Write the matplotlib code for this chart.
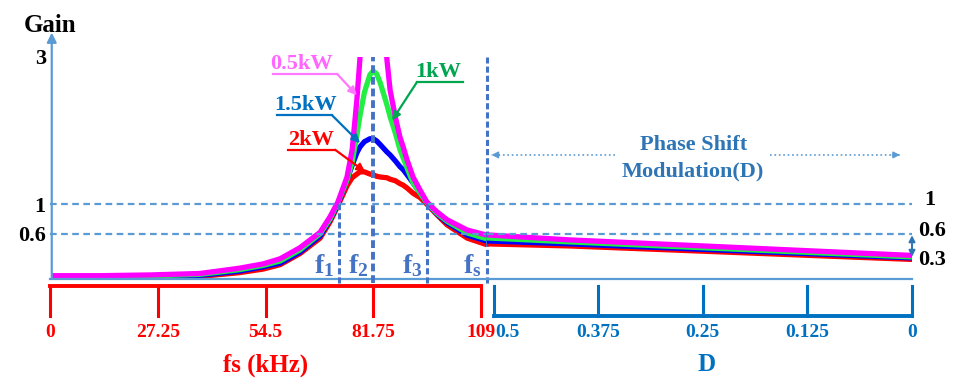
import matplotlib.pyplot as plt
import numpy as np

plt.rcParams['font.family'] = ['Liberation Serif', 'DejaVu Serif']
plt.rcParams['mathtext.fontset'] = 'custom'
plt.rcParams['mathtext.rm'] = 'Liberation Serif'
plt.rcParams['mathtext.bf'] = 'Liberation Serif:bold'

# 频率扫描部分 (kHz)
fs = [0.5, 12.6, 25.3, 37.9, 47.7, 53.9, 58.2, 63.2, 68.3, 70.8, 72.8, 75.1, 76.4, 77.6,
      78.4, 79.5, 80.9, 81.75, 82.6, 83.5, 85.2, 86.0, 87.3, 88.5, 89.3, 90.3, 91.8, 93.6,
      95.3, 97.8, 100.4, 105.5, 110.5]
gain_05kw = [0.03, 0.03, 0.04, 0.06, 0.13, 0.19, 0.26, 0.41, 0.62, 0.83, 1.03, 1.37, 1.74, 2.42,
             3.0, 3.6, 5.0, 6.0, 5.0, 4.2, 2.96, 2.55, 2.19, 1.91, 1.78, 1.60, 1.37, 1.19,
             1.03, 0.90, 0.79, 0.65, 0.58]
gain_1kw = [0.02, 0.02, 0.027, 0.048, 0.11, 0.17, 0.23, 0.38, 0.60, 0.80, 1.02, 1.33, 1.57, 1.94,
            2.21, 2.52, 2.76, 2.81, 2.77, 2.65, 2.35, 2.19, 1.97, 1.74, 1.63, 1.49, 1.29, 1.15,
            1.02, 0.88, 0.77, 0.61, 0.53]
gain_15kw = [0.014, 0.014, 0.02, 0.034, 0.09, 0.15, 0.20, 0.35, 0.57, 0.79, 1.0, 1.33, 1.53, 1.70,
             1.78, 1.85, 1.89, 1.89, 1.86, 1.81, 1.71, 1.67, 1.59, 1.51, 1.47, 1.40, 1.29, 1.15,
             1.02, 0.87, 0.75, 0.58, 0.50]
gain_2kw = [0.007, 0.007, 0.014, 0.02, 0.07, 0.12, 0.18, 0.33, 0.54, 0.76, 0.98, 1.25, 1.36, 1.41,
            1.44, 1.44, 1.41, 1.40, 1.38, 1.37, 1.36, 1.34, 1.32, 1.28, 1.26, 1.22, 1.15, 1.09,
            1.0, 0.86, 0.72, 0.54, 0.45]

# 移相调制部分 (D)
D = [0.508, 0.409, 0.0]
psm_05kw = [0.584, 0.516, 0.305]
psm_1kw = [0.543, 0.489, 0.285]
psm_15kw = [0.502, 0.462, 0.271]
psm_2kw = [0.462, 0.434, 0.251]

f_lines = [73.1, 81.75, 95.3, 110.5]
f_names = [r'$\mathbf{f_1}$', r'$\mathbf{f_2}$', r'$\mathbf{f_3}$', r'$\mathbf{f_s}$']
fs_ticks = [0, 27.25, 54.5, 81.75, 109]
fs_labels = ['0', '27.25', '54.5', '81.75', '109']
D_ticks = [0.5, 0.375, 0.25, 0.125, 0]
D_labels = ['0.5', '0.375', '0.25', '0.125', '0']

colors = ['#FF00FF', '#22EE44', '#0000FF', '#FF0000']
axis_c = '#5B9BD5'
dash_c = '#4472C4'
blue_t = '#2E75B6'

fig = plt.figure(figsize=(9.64, 3.90), dpi=100)
ax1 = fig.add_axes([50/964, 111/390, 437/964, 222/390])
ax2 = fig.add_axes([487/964, 111/390, 425/964, 222/390], sharey=ax1)
ax2.patch.set_visible(False)

# 曲线
for g, c in zip([gain_2kw, gain_15kw, gain_1kw, gain_05kw], colors[::-1]):
    ax1.plot(fs, g, color=c, lw=3.8, zorder=2, solid_capstyle='butt')
for g, c in zip([psm_2kw, psm_15kw, psm_1kw, psm_05kw], colors[::-1]):
    ax2.plot(D, g, color=c, lw=3.8, zorder=2, solid_capstyle='butt')

ax1.set_xlim(0, 110.5)
ax2.set_xlim(0.508, 0)
ax1.set_ylim(-0.015, 3.0)

for ax in (ax1, ax2):
    for s in ('top', 'right', 'left'):
        ax.spines[s].set_visible(False)
    ax.spines['bottom'].set_color(axis_c)
    ax.spines['bottom'].set_linewidth(1.6)
    ax.set_xticks([])
    ax.axhline(1, color=axis_c, lw=1.6, ls=(0, (3, 2)), zorder=3)
    ax.axhline(0.6, color=axis_c, lw=1.6, ls=(0, (3, 2)), zorder=3)
ax2.tick_params(left=False, labelleft=False)

ax1.set_yticks([0.6, 1, 3])
ax1.set_yticklabels(['0.6', '1', '3'], fontsize=16, fontweight='bold')
ax1.tick_params(axis='y', length=0, pad=3)

# y轴箭头
ax1.annotate('', xy=(0.004, 1.11), xytext=(0.004, 0), xycoords='axes fraction',
             arrowprops=dict(arrowstyle='-|>', color=axis_c, lw=1.6, mutation_scale=14,
                             shrinkA=0, shrinkB=0))
ax1.text(0, 1.144, 'Gain', transform=ax1.transAxes, ha='center', va='center',
         fontsize=18, fontweight='bold')

# 竖虚线
tops = [1.0, 3.0, 1.0, 3.0]
for x, t, name in zip(f_lines, tops, f_names):
    ax1.plot([x, x], [-0.07, t], color=dash_c, lw=2.8 if x == 81.75 else 2.2,
             ls=(0, (2, 1)), zorder=3, clip_on=False)
    ax1.text(x - 3.7, 0.068, name, color=dash_c, fontsize=20, ha='center', va='baseline')

# 功率标注
def tag(text, tx, ty, ux, uy, start, tip, color, lcolor):
    ax1.text(tx, ty, text, color=color, fontsize=16, fontweight='bold', ha='center', va='baseline')
    ax1.plot(ux, [uy, uy], color=lcolor, lw=1.6, zorder=4)
    ax1.annotate('', xy=tip, xytext=(start, uy),
                 arrowprops=dict(arrowstyle='-|>', color=lcolor, lw=1.6, mutation_scale=12,
                                 shrinkA=0, shrinkB=0), zorder=4)

tag('0.5kW', 63.7, 2.84, [56.4, 72.6], 2.77, 72.6, (77.6, 2.48), '#FF66FF', '#FF77FF')
tag('1kW', 98.1, 2.73, [92.8, 104.4], 2.66, 92.8, (86.5, 2.14), '#00A550', '#00A550')
tag('1.5kW', 64.5, 2.28, [57.4, 71.3], 2.21, 71.3, (78.4, 1.83), '#0070C0', '#0070C0')
tag('2kW', 66.0, 1.81, [60.2, 72.1], 1.74, 72.1, (79.7, 1.44), '#FF0000', '#FF0000')

# 移相调制说明
ax2.text(0.261, 1.805, 'Phase Shift', color=blue_t, fontsize=16, fontweight='bold',
         ha='center', va='center')
ax2.text(0.262, 1.44, 'Modulation(D)', color=blue_t, fontsize=16, fontweight='bold',
         ha='center', va='center')
ax2.plot([0.355, 0.503], [1.67, 1.67], color=axis_c, lw=1.2, ls=':')
ax2.plot([0.170, 0.014], [1.67, 1.67], color=axis_c, lw=1.2, ls=':')
ax2.annotate('', xy=(0.506, 1.67), xytext=(0.49, 1.67),
             arrowprops=dict(arrowstyle='-|>', color=axis_c, lw=1, mutation_scale=10))
ax2.annotate('', xy=(0.011, 1.67), xytext=(0.027, 1.67),
             arrowprops=dict(arrowstyle='-|>', color=axis_c, lw=1, mutation_scale=10))

ax2.text(-0.0215, 1.06, '1', fontsize=16, fontweight='bold', ha='center', va='center', clip_on=False)
ax2.text(-0.024, 0.64, '0.6', fontsize=16, fontweight='bold', ha='center', va='center', clip_on=False)
ax2.text(-0.024, 0.24, '0.3', fontsize=16, fontweight='bold', ha='center', va='center', clip_on=False)
ax2.annotate('', xy=(0.0, 0.285), xytext=(0.0, 0.58),
             arrowprops=dict(arrowstyle='<|-|>', color=blue_t, lw=1.4, mutation_scale=9,
                             shrinkA=0, shrinkB=0), annotation_clip=False)

# 底部刻度尺
tr1 = ax1.get_xaxis_transform()
ax1.plot([fs_ticks[0], fs_ticks[-1]], [-0.0315, -0.0315], color='#FF0000', lw=2.8,
         transform=tr1, clip_on=False, solid_capstyle='projecting')
for x, lab in zip(fs_ticks, fs_labels):
    ax1.plot([x, x], [-0.0315, -0.167], color='#FF0000', lw=2.2, transform=tr1, clip_on=False)
    ax1.text(x, -0.239, lab, color='#FF0000', fontsize=14, fontweight='bold',
             ha='center', va='center', transform=tr1)
ax1.text(54.4, -0.387, 'fs (kHz)', color='#FF0000', fontsize=18, fontweight='bold',
         ha='center', va='center', transform=tr1)

tr2 = ax2.get_xaxis_transform()
ax2.plot([D_ticks[0], D_ticks[-1]], [-0.167, -0.167], color='#0070C0', lw=2.8,
         transform=tr2, clip_on=False, solid_capstyle='projecting')
for x, lab in zip(D_ticks, D_labels):
    ax2.plot([x, x], [-0.0315, -0.167], color='#0070C0', lw=2.2, transform=tr2, clip_on=False)
    ax2.text(x - 0.002 if x == 0.5 else x, -0.239, lab, color='#0070C0', fontsize=14,
             fontweight='bold', ha='left' if x == 0.5 else 'center', va='center', transform=tr2)
ax2.text(0.245, -0.387, 'D', color='#0070C0', fontsize=18, fontweight='bold',
         ha='center', va='center', transform=tr2)

fig.savefig('out.png', dpi=100)
